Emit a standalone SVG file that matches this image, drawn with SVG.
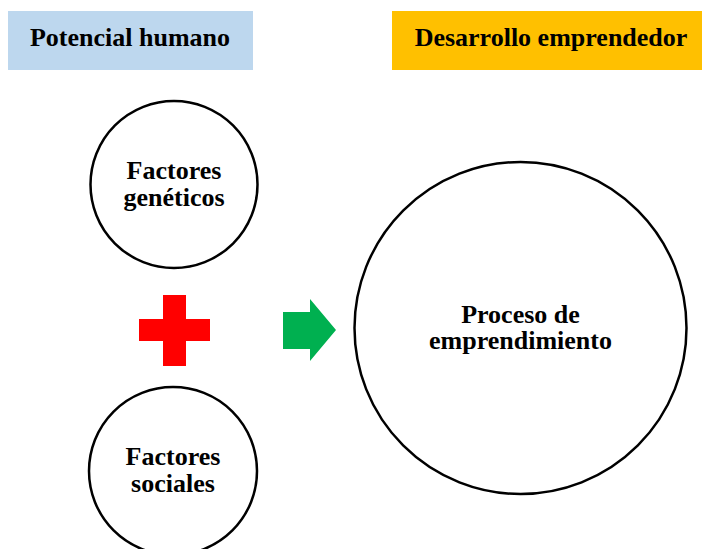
<svg xmlns="http://www.w3.org/2000/svg" width="702" height="549" viewBox="0 0 702 549">
<style>
text{font-family:"Liberation Serif","Times New Roman",serif;font-weight:bold;font-size:26px;fill:#000;text-anchor:middle}
.c{fill:#fff;stroke:#000;stroke-width:2.5}
</style>
<rect width="702" height="549" fill="#fff"/>
<g id="hdr-potencial">
<rect x="8" y="11" width="245" height="59" fill="#BDD7EE"/>
<text x="130" y="46">Potencial humano</text>
</g>
<g id="hdr-desarrollo">
<rect x="392" y="11" width="310" height="59" fill="#FFC000"/>
<text x="551" y="46">Desarrollo emprendedor</text>
</g>
<g id="factores-geneticos">
<circle class="c" cx="174" cy="184.5" r="83.5"/>
<text x="174" y="179">Factores</text>
<text x="174" y="206">genéticos</text>
</g>
<g id="plus">
<path d="M163,295H186V319H210V341H186V366H163V341H139V319H163Z" fill="#FF0000"/>
</g>
<g id="factores-sociales">
<circle class="c" cx="173" cy="471" r="84"/>
<text x="173" y="465">Factores</text>
<text x="173" y="492">sociales</text>
</g>
<g id="connectors">
<path d="M283,312H310V299L336,330L310,361V349H283Z" fill="#00B050"/>
</g>
<g id="proceso">
<circle class="c" cx="520.5" cy="328" r="166"/>
<text x="520.5" y="322.5">Proceso de</text>
<text x="520.5" y="349">emprendimiento</text>
</g>
</svg>
